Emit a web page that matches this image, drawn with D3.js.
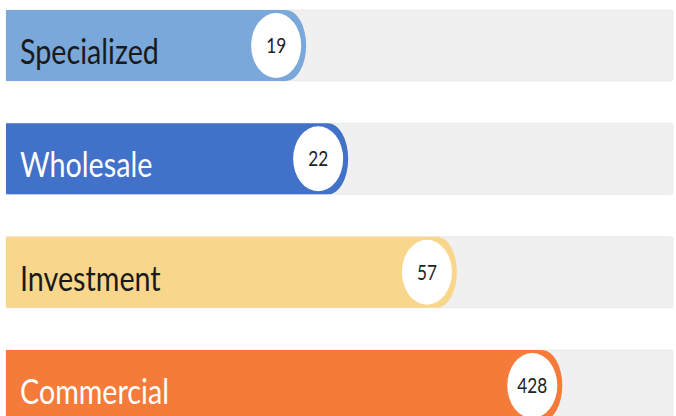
<!DOCTYPE html>
<html>
<head>
<meta charset="utf-8">
<script src="https://cdn.jsdelivr.net/npm/d3@7"></script>
<style>
  body { margin: 0; background: #fff; }
  svg { display: block; }
</style>
</head>
<body>
<div id="chart"></div>
<script>
// Categories and values, top to bottom
const categories = ["Specialized", "Wholesale", "Investment", "Commercial"];
const values = [19, 22, 57, 428];
// How far each bar is filled along its track (percent)
const fillPercent = [45.0, 51.3, 67.6, 83.4];

// Palette
const barColors = ["#7aa8db", "#4271c9", "#f8d68b", "#f57b3b"];
const labelColors = ["#1a1a1a", "#ffffff", "#1a1a1a", "#ffffff"];

const width = 676;
const height = 416;
const squeeze = 0.82; // the original is horizontally compressed

const svg = d3.select("#chart")
  .append("svg")
  .attr("width", width)
  .attr("height", height);

const x = d3.scaleLinear().domain([0, 100]).range([6, 673]);
const y = d3.scaleBand().domain(categories).range([10, 421]).paddingInner(0.3735).paddingOuter(0);

const rows = categories.map((c, i) => ({
  name: c,
  value: values[i],
  pct: fillPercent[i],
  color: barColors[i],
  textColor: labelColors[i]
}));

const g = svg.selectAll(".row")
  .data(rows)
  .enter()
  .append("g")
  .attr("class", "row");

// grey track
g.append("rect")
  .attr("x", x(0))
  .attr("y", d => y(d.name))
  .attr("width", x(100) - x(0))
  .attr("height", y.bandwidth())
  .attr("rx", 2)
  .attr("fill", "#f0f0f0")
  .attr("stroke", "#e3e3e3")
  .attr("stroke-width", 0.6);

// filled part with a rounded right end
const capRx = 20;
g.append("path")
  .attr("fill", d => d.color)
  .attr("d", d => {
    const x0 = x(0), xe = x(d.pct);
    const y0 = y(d.name), h = y.bandwidth(), ry = h / 2;
    return `M${x0},${y0} H${xe - capRx} A${capRx},${ry} 0 0 1 ${xe},${y0 + ry}` +
      ` A${capRx},${ry} 0 0 1 ${xe - capRx},${y0 + h} H${x0} Z`;
  });

// white badge
g.append("ellipse")
  .attr("cx", d => x(d.pct) - 30)
  .attr("cy", d => y(d.name) + y.bandwidth() / 2)
  .attr("rx", 25)
  .attr("ry", 32.5)
  .attr("fill", "#ffffff");

// value text
g.append("text")
  .attr("transform", d => `translate(${x(d.pct) - 30},${y(d.name) + y.bandwidth() / 2}) scale(${squeeze},1)`)
  .attr("text-anchor", "middle")
  .attr("dy", "0.36em")
  .style("font-family", "Lato, 'Noto Sans', sans-serif")
  .style("font-size", "21px")
  .style("fill", "#222")
  .text(d => d.value);

// category label
g.append("text")
  .attr("transform", d => `translate(20,${y(d.name) + 54}) scale(${squeeze},1)`)
  .style("font-family", "Lato, 'Noto Sans', sans-serif")
  .style("font-size", "35px")
  .style("fill", d => d.textColor)
  .text(d => d.name);
</script>
</body>
</html>
